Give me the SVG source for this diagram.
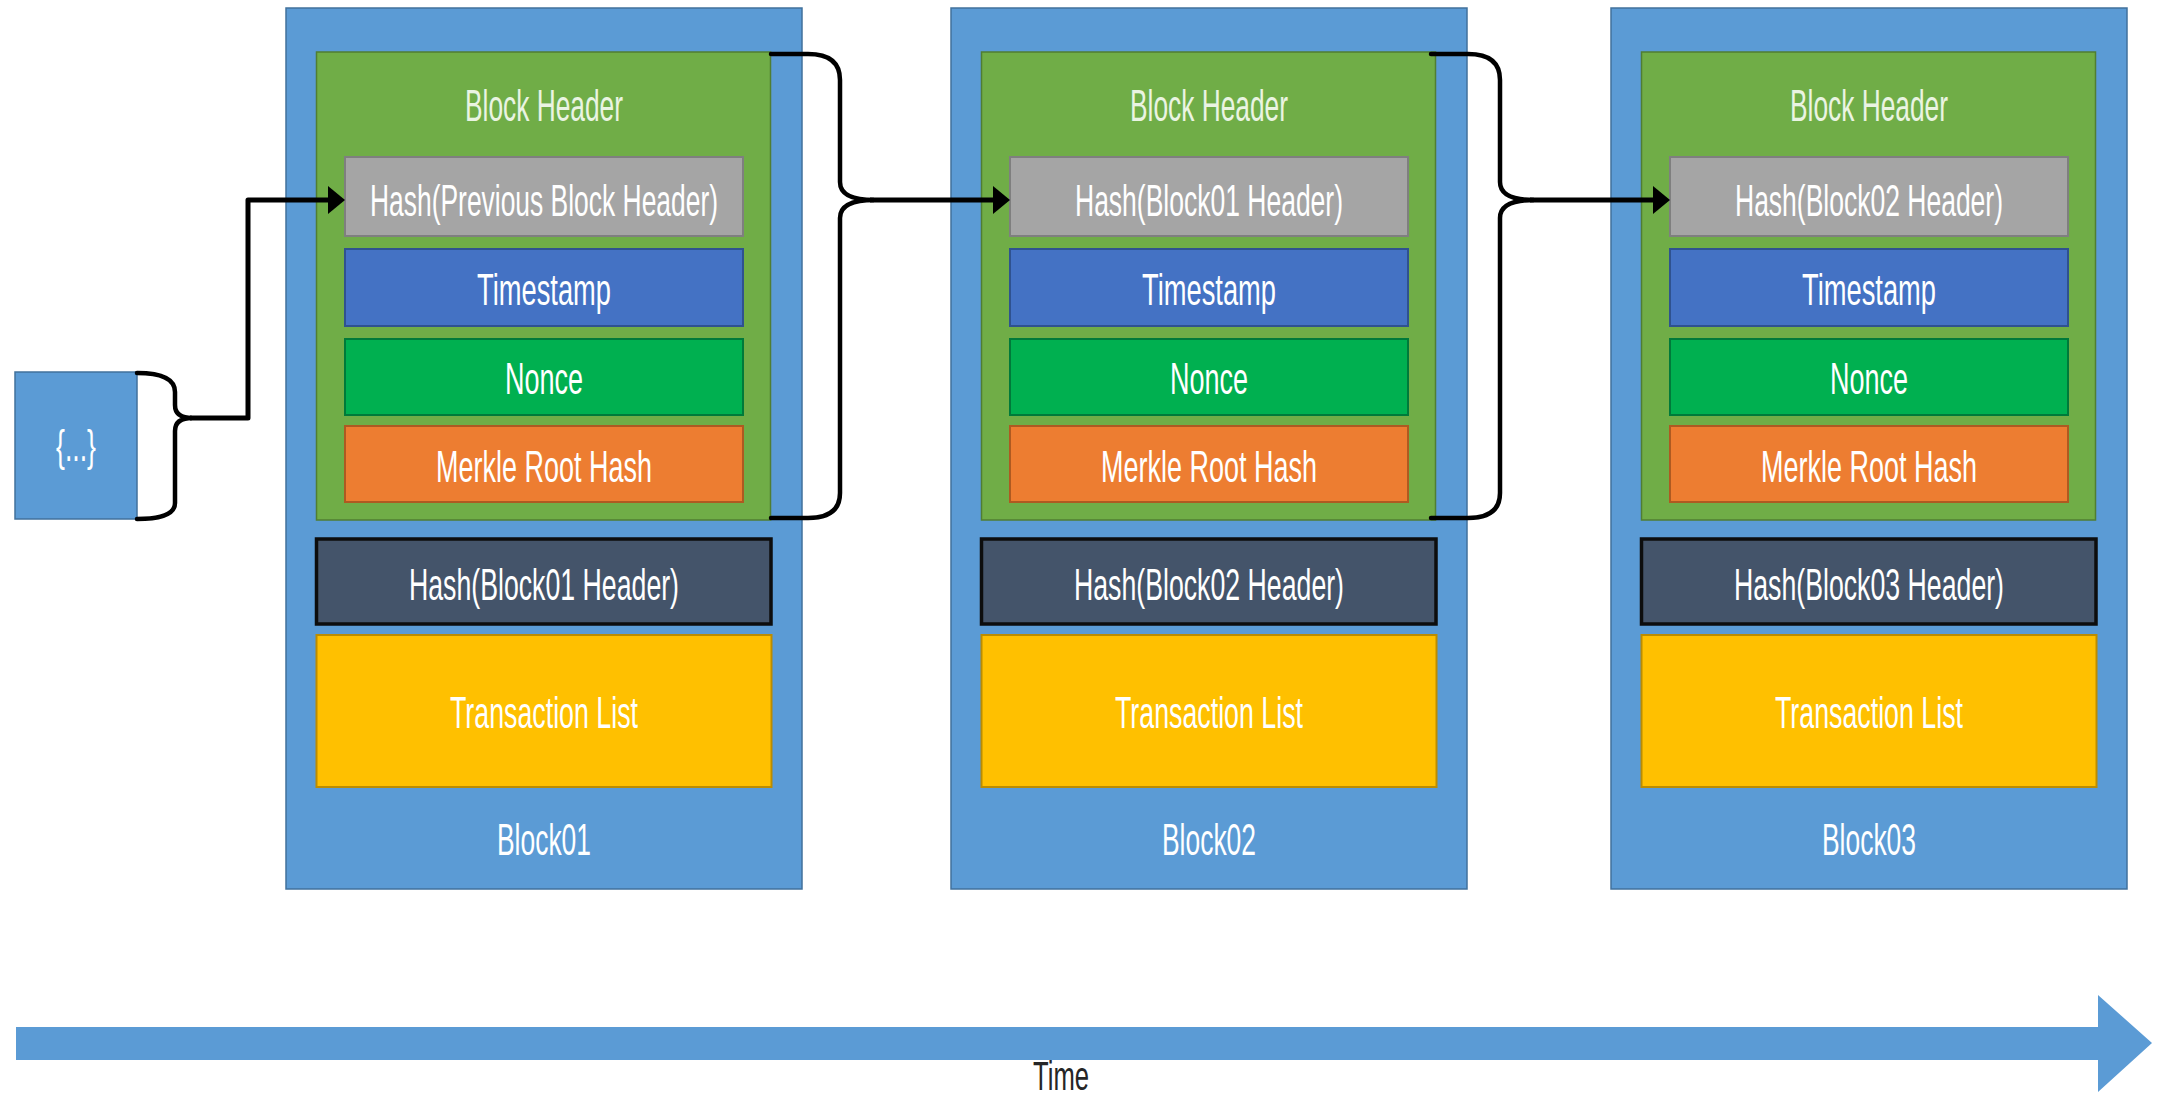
<svg xmlns="http://www.w3.org/2000/svg" width="2160" height="1094" viewBox="0 0 2160 1094">
  <style>
    .outer { fill: #5B9BD5; stroke: #41719C; stroke-width: 1.5; }
    .header { fill: #70AD47; stroke: #507E32; stroke-width: 1.5; }
    .prev { fill: #A5A5A5; stroke: #7F7F7F; stroke-width: 2; }
    .time { fill: #4472C4; stroke: #2F528F; stroke-width: 2; }
    .nonce { fill: #00B050; stroke: #007A3A; stroke-width: 2; }
    .merkle { fill: #ED7D31; stroke: #AE5A21; stroke-width: 2; }
    .own { fill: #44546A; stroke: #0D0D0D; stroke-width: 3.5; }
    .tx { fill: #FFC000; stroke: #BC8C00; stroke-width: 2; }
    text { font-family: "Liberation Sans", Arial, sans-serif; font-size: 44px; fill: #FFFFFF; text-anchor: middle; }
    .hdr { fill: #EAF4E2; }
    .axis { fill: #262626; font-size: 40px; }
    .wire { fill: none; stroke: #000000; stroke-width: 5; stroke-linejoin: round; }
    .brace { fill: none; stroke: #000000; stroke-width: 4.5; stroke-linecap: round; }
  </style>
  <defs>
    <marker id="head" markerUnits="userSpaceOnUse" markerWidth="20" markerHeight="30" refX="2" refY="14" orient="auto">
      <path d="M0,0 L17,14 L0,28 Z" fill="#000000"/>
    </marker>
  </defs>

  <rect width="2160" height="1094" fill="#FFFFFF"/>

  <!-- genesis data -->
  <g id="genesis">
    <rect x="15" y="372" width="122" height="147" class="outer"/>
    <text x="76" y="461" textLength="40" lengthAdjust="spacingAndGlyphs">{...}</text>
  </g>

  <!-- Block01 -->
  <g id="block01">
    <rect x="286" y="8" width="516" height="881" class="outer"/>
    <g id="block01-header">
      <rect x="316.5" y="52" width="454" height="468" class="header"/>
      <text x="544" y="121" class="hdr" textLength="158" lengthAdjust="spacingAndGlyphs">Block Header</text>
    </g>
    <g id="block01-prev">
      <rect x="345" y="157" width="398" height="79" class="prev"/>
      <text x="544" y="216" textLength="348" lengthAdjust="spacingAndGlyphs">Hash(Previous Block Header)</text>
    </g>
    <g id="block01-timestamp">
      <rect x="345" y="249" width="398" height="77" class="time"/>
      <text x="544" y="305" textLength="134" lengthAdjust="spacingAndGlyphs">Timestamp</text>
    </g>
    <g id="block01-nonce">
      <rect x="345" y="339" width="398" height="76" class="nonce"/>
      <text x="544" y="394" textLength="78" lengthAdjust="spacingAndGlyphs">Nonce</text>
    </g>
    <g id="block01-merkle">
      <rect x="345" y="426" width="398" height="76" class="merkle"/>
      <text x="544" y="482" textLength="216" lengthAdjust="spacingAndGlyphs">Merkle Root Hash</text>
    </g>
    <g id="block01-hash">
      <rect x="316.5" y="539" width="454.5" height="85" class="own"/>
      <text x="544" y="600" textLength="270" lengthAdjust="spacingAndGlyphs">Hash(Block01 Header)</text>
    </g>
    <g id="block01-tx">
      <rect x="316.5" y="635" width="455" height="152" class="tx"/>
      <text x="544" y="728" textLength="188" lengthAdjust="spacingAndGlyphs">Transaction List</text>
    </g>
    <text x="544" y="855" textLength="94" lengthAdjust="spacingAndGlyphs">Block01</text>
  </g>

  <!-- Block02 -->
  <g id="block02">
    <rect x="951" y="8" width="516" height="881" class="outer"/>
    <g id="block02-header">
      <rect x="981.5" y="52" width="454" height="468" class="header"/>
      <text x="1209" y="121" class="hdr" textLength="158" lengthAdjust="spacingAndGlyphs">Block Header</text>
    </g>
    <g id="block02-prev">
      <rect x="1010" y="157" width="398" height="79" class="prev"/>
      <text x="1209" y="216" textLength="268" lengthAdjust="spacingAndGlyphs">Hash(Block01 Header)</text>
    </g>
    <g id="block02-timestamp">
      <rect x="1010" y="249" width="398" height="77" class="time"/>
      <text x="1209" y="305" textLength="134" lengthAdjust="spacingAndGlyphs">Timestamp</text>
    </g>
    <g id="block02-nonce">
      <rect x="1010" y="339" width="398" height="76" class="nonce"/>
      <text x="1209" y="394" textLength="78" lengthAdjust="spacingAndGlyphs">Nonce</text>
    </g>
    <g id="block02-merkle">
      <rect x="1010" y="426" width="398" height="76" class="merkle"/>
      <text x="1209" y="482" textLength="216" lengthAdjust="spacingAndGlyphs">Merkle Root Hash</text>
    </g>
    <g id="block02-hash">
      <rect x="981.5" y="539" width="454.5" height="85" class="own"/>
      <text x="1209" y="600" textLength="270" lengthAdjust="spacingAndGlyphs">Hash(Block02 Header)</text>
    </g>
    <g id="block02-tx">
      <rect x="981.5" y="635" width="455" height="152" class="tx"/>
      <text x="1209" y="728" textLength="188" lengthAdjust="spacingAndGlyphs">Transaction List</text>
    </g>
    <text x="1209" y="855" textLength="94" lengthAdjust="spacingAndGlyphs">Block02</text>
  </g>

  <!-- Block03 -->
  <g id="block03">
    <rect x="1611" y="8" width="516" height="881" class="outer"/>
    <g id="block03-header">
      <rect x="1641.5" y="52" width="454" height="468" class="header"/>
      <text x="1869" y="121" class="hdr" textLength="158" lengthAdjust="spacingAndGlyphs">Block Header</text>
    </g>
    <g id="block03-prev">
      <rect x="1670" y="157" width="398" height="79" class="prev"/>
      <text x="1869" y="216" textLength="268" lengthAdjust="spacingAndGlyphs">Hash(Block02 Header)</text>
    </g>
    <g id="block03-timestamp">
      <rect x="1670" y="249" width="398" height="77" class="time"/>
      <text x="1869" y="305" textLength="134" lengthAdjust="spacingAndGlyphs">Timestamp</text>
    </g>
    <g id="block03-nonce">
      <rect x="1670" y="339" width="398" height="76" class="nonce"/>
      <text x="1869" y="394" textLength="78" lengthAdjust="spacingAndGlyphs">Nonce</text>
    </g>
    <g id="block03-merkle">
      <rect x="1670" y="426" width="398" height="76" class="merkle"/>
      <text x="1869" y="482" textLength="216" lengthAdjust="spacingAndGlyphs">Merkle Root Hash</text>
    </g>
    <g id="block03-hash">
      <rect x="1641.5" y="539" width="454.5" height="85" class="own"/>
      <text x="1869" y="600" textLength="270" lengthAdjust="spacingAndGlyphs">Hash(Block03 Header)</text>
    </g>
    <g id="block03-tx">
      <rect x="1641.5" y="635" width="455" height="152" class="tx"/>
      <text x="1869" y="728" textLength="188" lengthAdjust="spacingAndGlyphs">Transaction List</text>
    </g>
    <text x="1869" y="855" textLength="94" lengthAdjust="spacingAndGlyphs">Block03</text>
  </g>

  <!-- braces and hash links -->
  <g id="connectors">
    <path class="brace" d="M137,373 Q175,373 175,392 L175,405 Q175,418 192,418 Q175,418 175,431 L175,503 Q175,519 137,519"/>
    <path class="wire" d="M190,418 L248,418 L248,200 L330,200" marker-end="url(#head)"/>

    <path class="brace" d="M771,54 L808,54 Q840,54 840,80 L840,182 Q840,200 874,200 Q840,200 840,218 L840,493 Q840,518 808,518 L771,518"/>
    <path class="wire" d="M870,200 L995,200" marker-end="url(#head)"/>

    <path class="brace" d="M1431,54 L1468,54 Q1500,54 1500,80 L1500,182 Q1500,200 1534,200 Q1500,200 1500,218 L1500,493 Q1500,518 1468,518 L1431,518"/>
    <path class="wire" d="M1530,200 L1655,200" marker-end="url(#head)"/>
  </g>

  <!-- time axis -->
  <g id="timeline">
    <polygon points="16,1027 2098,1027 2098,995 2152,1043 2098,1092 2098,1060 16,1060" fill="#5B9BD5"/>
    <text x="1061" y="1090" class="axis" textLength="56" lengthAdjust="spacingAndGlyphs">Time</text>
  </g>
</svg>
